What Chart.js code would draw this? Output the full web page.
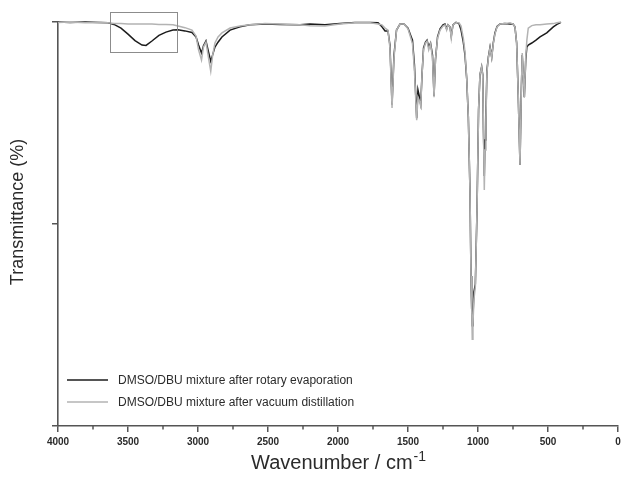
<!DOCTYPE html>
<html>
<head>
<meta charset="utf-8">
<title>IR spectra</title>
<script src="https://cdn.jsdelivr.net/npm/chart.js@4.4.1/dist/chart.umd.min.js"></script>
<style>
  html, body { margin: 0; padding: 0; background: #fff; }
  #wrap { width: 622px; height: 479px; }
</style>
</head>
<body>
<div id="wrap"><canvas id="irChart" width="622" height="479"></canvas></div>
<script>
// =============================
// Data
// =============================
const wavenumbers = [
  4000, 3914, 3807, 3700, 3643, 3600, 3550, 3500, 3450, 3400,
  3371, 3329, 3279, 3229, 3179, 3143, 3093, 3043, 3014, 2996,
  2975, 2961, 2943, 2925, 2909, 2896, 2879, 2857, 2829, 2771,
  2700, 2629, 2521, 2414, 2271, 2200, 2093, 1986, 1879, 1771,
  1714, 1686, 1664, 1643, 1629, 1614, 1600, 1582, 1557, 1529,
  1500, 1482, 1468, 1454, 1438, 1429, 1421, 1409, 1400, 1389,
  1375, 1364, 1352, 1339, 1325, 1314, 1304, 1289, 1271, 1250,
  1236, 1224, 1214, 1200, 1191, 1179, 1157, 1136, 1121, 1105,
  1093, 1081, 1069, 1057, 1050, 1045, 1041, 1036, 1029, 1019,
  1007, 996, 986, 974, 966, 961, 955, 950, 943, 936,
  926, 914, 902, 891, 879, 864, 843, 807, 771, 750,
  736, 724, 713, 700, 691, 684, 676, 669, 659, 651,
  641, 616, 586, 557, 509, 462, 436, 407
];

// after rotary evaporation (black)
const rotaryT = [
  100, 99.9, 100, 99.9, 99.8, 99.4, 98.5, 97.0, 95.4, 94.3,
  94.2, 95.3, 96.7, 97.5, 98.0, 98.1, 97.8, 97.4, 96.3, 94.3,
  92.3, 94.1, 95.3, 92.6, 90.3, 91.8, 93.8, 95.0, 96.3, 98.0,
  98.8, 99.3, 99.5, 99.4, 99.3, 99.5, 99.3, 99.6, 99.9, 99.9,
  99.8, 98.8, 97.8, 97.8, 94.3, 79.5, 91.8, 98.0, 99.5, 99.5,
  98.5, 96.8, 95.5, 89.4, 76.2, 83.2, 81.9, 79.7, 86.9, 93.6,
  95.0, 95.5, 93.8, 94.8, 91.8, 81.7, 90.6, 96.3, 98.3, 99.3,
  99.5, 98.3, 99.3, 98.8, 96.5, 99.3, 99.9, 99.6, 98.0, 95.0,
  91.8, 86.1, 76.5, 57.7, 37.1, 29.0, 24.8, 27.0, 33.2, 35.1,
  53.5, 78.2, 86.9, 88.9, 86.9, 73.3, 61.9, 70.8, 77.7, 88.1,
  91.3, 93.8, 91.3, 94.8, 97.3, 98.9, 99.5, 99.6, 99.5, 99.5,
  98.8, 94.8, 82.4, 64.6, 82.4, 91.8, 86.4, 81.4, 90.6, 93.8,
  94.3, 94.8, 95.5, 96.3, 97.3, 98.8, 99.4, 99.9
];

// after vacuum distillation (grey)
const vacuumT = [
  99.9, 100, 99.8, 99.9, 99.8, 99.6, 99.6, 99.5, 99.5, 99.5,
  99.5, 99.5, 99.4, 99.4, 99.3, 99.0, 98.6, 98.0, 96.5, 93.1,
  90.6, 93.8, 95.0, 91.1, 87.8, 91.6, 94.8, 96.3, 97.3, 98.5,
  99.0, 99.3, 99.6, 99.5, 99.3, 99.1, 99.0, 99.5, 99.8, 99.8,
  99.5, 99.3, 98.5, 98.0, 93.6, 78.7, 91.1, 98.0, 99.5, 99.5,
  98.3, 96.3, 94.6, 88.1, 75.7, 81.4, 80.7, 79.2, 86.9, 93.1,
  94.8, 95.3, 93.1, 94.6, 91.1, 81.4, 90.6, 96.0, 98.0, 99.0,
  99.3, 98.0, 99.3, 98.8, 96.0, 99.3, 99.8, 99.8, 99.0, 96.0,
  92.6, 86.4, 76.5, 57.7, 37.1, 29.0, 21.5, 25.2, 31.4, 34.4,
  53.5, 78.2, 86.9, 88.9, 86.6, 73.3, 58.4, 68.3, 76.2, 87.6,
  91.1, 93.6, 91.1, 94.6, 97.0, 98.8, 99.5, 99.6, 99.8, 99.5,
  98.8, 94.8, 82.4, 64.6, 82.4, 92.3, 86.4, 81.4, 91.3, 95.5,
  98.5, 99.1, 99.3, 99.3, 99.5, 99.6, 99.8, 100
];

const seriesLabels = [
  "DMSO/DBU mixture after rotary evaporation",
  "DMSO/DBU mixture after vacuum distillation"
];

const xMajorTicks = [4000, 3500, 3000, 2500, 2000, 1500, 1000, 500, 0];
const xMinorTicks = [3750, 3250, 2750, 2250, 1750, 1250, 750, 250];
const yTicks = [0, 50, 100];

// the boxed O-H region
const boxWn = [3630, 3150];
const boxT = [92.6, 102.4];

// =============================
// Styling
// =============================
const AXIS_COLOR = "#555555";
const TEXT_COLOR = "#2b2b2b";
const FONT = "'Liberation Sans', Arial, sans-serif";
const COLORS = ["#1c1c1c", "#b3b3b3"];

function toPoints(values) {
  return wavenumbers.map((wn, i) => ({ x: wn, y: values[i] }));
}

// =============================
// Extra drawing: box, minor ticks, titles, legend
// =============================
const decorPlugin = {
  id: "irDecor",
  afterDatasetsDraw(chart) {
    const { ctx, scales: { x, y } } = chart;
    const x0 = x.getPixelForValue(boxWn[0]);
    const x1 = x.getPixelForValue(boxWn[1]);
    const y0 = y.getPixelForValue(boxT[1]);
    const y1 = y.getPixelForValue(boxT[0]);
    ctx.save();
    ctx.strokeStyle = "#8c8c8c";
    ctx.lineWidth = 1;
    ctx.strokeRect(Math.round(x0) + 0.5, Math.round(y0) + 0.5, Math.round(x1 - x0), Math.round(y1 - y0));
    ctx.restore();
  },
  afterDraw(chart) {
    const { ctx, chartArea: area, scales: { x } } = chart;
    ctx.save();

    // minor ticks on the wavenumber axis
    ctx.strokeStyle = AXIS_COLOR;
    ctx.lineWidth = 1.5;
    xMinorTicks.forEach(v => {
      const px = Math.round(x.getPixelForValue(v));
      ctx.beginPath();
      ctx.moveTo(px, area.bottom);
      ctx.lineTo(px, area.bottom + 3.5);
      ctx.stroke();
    });

    // x title with superscript
    ctx.fillStyle = TEXT_COLOR;
    ctx.textBaseline = "alphabetic";
    ctx.textAlign = "left";
    const main = "Wavenumber / cm";
    const sup = "-1";
    ctx.font = "20px " + FONT;
    const wMain = ctx.measureText(main).width;
    ctx.font = "14px " + FONT;
    const wSup = ctx.measureText(sup).width;
    const cx = (area.left + area.right) / 2;
    const startX = cx - (wMain + wSup) / 2;
    ctx.font = "20px " + FONT;
    ctx.fillText(main, startX, 469);
    ctx.font = "14px " + FONT;
    ctx.fillText(sup, startX + wMain + 1, 461);

    // y title
    ctx.save();
    ctx.translate(18, 212);
    ctx.rotate(-Math.PI / 2);
    ctx.font = "18px " + FONT;
    ctx.textAlign = "center";
    ctx.textBaseline = "middle";
    ctx.fillText("Transmittance (%)", 0, 0);
    ctx.restore();

    // legend inside the plot, lower left
    ctx.font = "12px " + FONT;
    ctx.textAlign = "left";
    ctx.textBaseline = "middle";
    chart.data.datasets.forEach((ds, i) => {
      const ly = area.bottom - 46 + i * 22;
      ctx.strokeStyle = COLORS[i];
      ctx.lineWidth = 1.5;
      ctx.beginPath();
      ctx.moveTo(area.left + 9, ly);
      ctx.lineTo(area.left + 50, ly);
      ctx.stroke();
      ctx.fillStyle = TEXT_COLOR;
      ctx.fillText(ds.label, area.left + 60, ly + 1);
    });

    ctx.restore();
  }
};

// =============================
// Chart
// =============================
new Chart(document.getElementById("irChart"), {
  type: "line",
  data: {
    datasets: [
      { label: seriesLabels[0], data: toPoints(rotaryT), borderColor: COLORS[0], borderWidth: 1.5, order: 1 },
      { label: seriesLabels[1], data: toPoints(vacuumT), borderColor: COLORS[1], borderWidth: 1.5, order: 0 }
    ]
  },
  options: {
    responsive: false,
    animation: false,
    devicePixelRatio: 1,
    layout: { padding: { top: 22, right: 4, left: 0, bottom: 0 } },
    elements: { point: { radius: 0 }, line: { tension: 0 } },
    datasets: { line: { clip: false } },
    plugins: { legend: { display: false }, tooltip: { enabled: false } },
    scales: {
      x: {
        type: "linear",
        reverse: true,
        min: 0,
        max: 4000,
        afterBuildTicks: s => { s.ticks = xMajorTicks.map(v => ({ value: v })); },
        afterFit: s => { s.height = 53; s.paddingLeft = 0; s.paddingRight = 0; },
        ticks: {
          autoSkip: false,
          maxRotation: 0,
          padding: 4,
          color: TEXT_COLOR,
          font: { family: FONT, size: 10, weight: "bold" },
          callback: v => String(v)
        },
        grid: { drawOnChartArea: false, drawTicks: true, tickLength: 6, color: AXIS_COLOR, lineWidth: 1.5 },
        border: { color: AXIS_COLOR, width: 1.6 }
      },
      y: {
        min: 0,
        max: 100,
        afterBuildTicks: s => { s.ticks = yTicks.map(v => ({ value: v })); },
        afterFit: s => { s.width = 58; },
        ticks: { display: false },
        grid: { drawOnChartArea: false, drawTicks: true, tickLength: 6, color: AXIS_COLOR, lineWidth: 1.5 },
        border: { color: AXIS_COLOR, width: 1.6 }
      }
    }
  },
  plugins: [decorPlugin]
});
</script>
</body>
</html>
